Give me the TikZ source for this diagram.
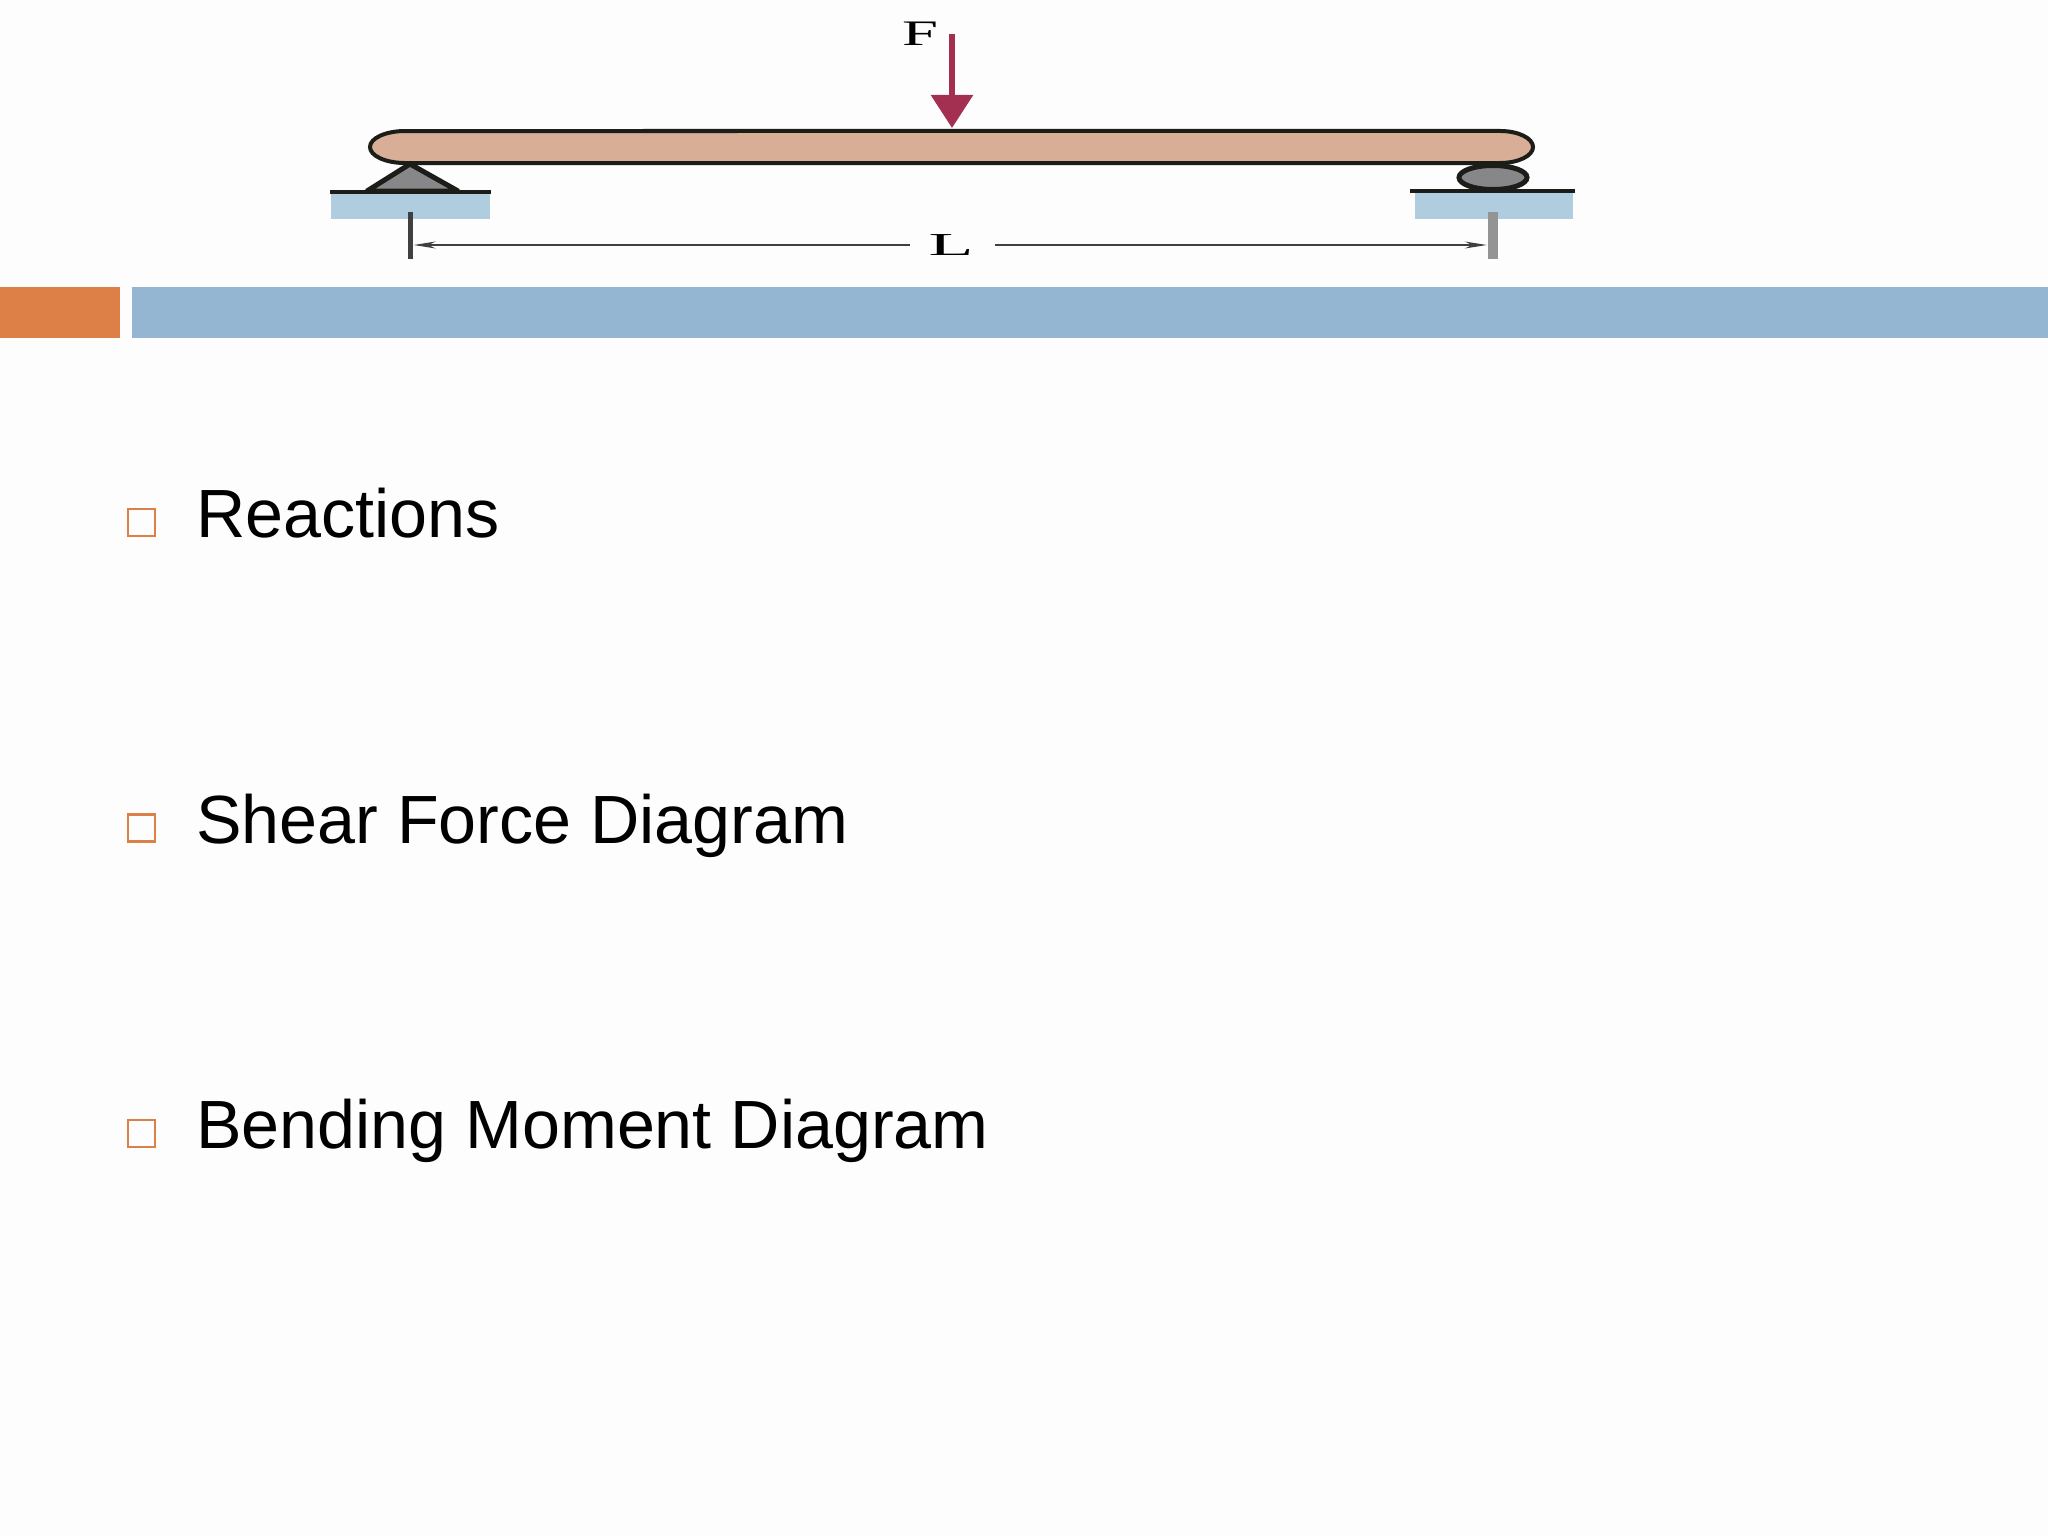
\documentclass[tikz,border=0pt]{standalone}
\usepackage{xcolor}
\usepackage{fontspec}
\setmainfont{Liberation Sans}
\newfontfamily\beamfont{Liberation Serif}
\usetikzlibrary{arrows.meta,shapes.geometric}
\definecolor{paper}{RGB}{253,253,253}
\definecolor{accent}{RGB}{221,128,71}
\definecolor{band}{RGB}{148,182,210}
\definecolor{beam}{RGB}{217,174,151}
\definecolor{ground}{RGB}{175,205,222}
\definecolor{support}{RGB}{135,135,138}
\definecolor{force}{RGB}{163,48,80}
\definecolor{outline}{RGB}{28,28,24}
\tikzstyle{bullet}=[draw=accent,line width=.028cm,minimum size=.27cm,inner sep=0pt]
\tikzstyle{item}=[anchor=base west,inner sep=0pt,font=\fontsize{19.4}{23}\selectfont]
\tikzset{support/.style={fill=support,draw=outline,line width=.05cm}}
\tikzset{surface/.style={draw=outline,line width=.035cm}}
\tikzset{tick/.style={minimum width=.05cm,minimum height=.47cm,inner sep=0pt}}
\tikzset{dimension/.style={draw=black!75,line width=.012cm,-{Stealth[length=.22cm,width=.07cm]}}}

\begin{document}
\begin{tikzpicture}[x=.01cm,y=-.01cm]
  \useasboundingbox (0,0) rectangle (2048,1536);
  \fill[paper] (0,0) rectangle (2048,1536);

  %% Header band
  \fill[accent] (0,287) rectangle (120,338);
  \fill[band] (132,287) rectangle (2048,338);

  %% Ground under the supports
  \fill[ground] (331,192) rectangle (490,219);
  \fill[ground] (1415,192) rectangle (1573,219);
  \draw[surface] (330,192) -- (491,192);
  \draw[surface] (1410,191) -- (1575,191);

  %% Supports
  \draw[support,line join=round] (410,164) -- (458,191) -- (367,191) -- cycle;
  \draw (1493,177.5) node[ellipse,support,minimum width=.68cm,minimum height=.24cm,inner sep=0pt] (roller) {};

  %% Beam
  \draw[fill=beam,draw=outline,line width=.04cm] (405,131) arc[start angle=90,delta angle=180,x radius=.35cm,y radius=.16cm]
    -- (1500,163) arc[start angle=270,delta angle=180,x radius=.33cm,y radius=.16cm] -- cycle;

  %% Load
  \coordinate (Ftop) at (952,34);
  \coordinate (Fend) at (952,128);
  \draw[force,line width=.06cm,-{Triangle[length=.33cm,width=.41cm]}] (Ftop) -- (Fend);
  \draw (920,34) node[xscale=1.8,inner sep=0pt,font=\beamfont\fontsize{10.2}{12}\selectfont] (Flabel) {F};

  %% Span
  \draw (410.5,235.5) node[tick,fill=black!75] (tickA) {};
  \draw (1492.5,235.5) node[tick,minimum width=.1cm,fill=black!42] (tickB) {};
  \draw (951,245) node[xscale=2.3,inner sep=0pt,font=\beamfont\fontsize{9.1}{11}\selectfont] (Llabel) {L};
  \coordinate (La) at (910,245);
  \coordinate (Lb) at (995,245);
  \draw[dimension] (La) -- (La -| tickA.east);
  \draw[dimension] (Lb) -- (Lb -| tickB.west);

  %% List
  \draw (141.5,522.5) node[bullet] (B1) {};
  \draw (195.5,537) node[item] (T1) {Reactions};
  \draw (141.5,828) node[bullet] (B2) {};
  \draw (195.5,843) node[item] (T2) {Shear Force Diagram};
  \draw (141.5,1133.5) node[bullet] (B3) {};
  \draw (195.5,1148) node[item] (T3) {Bending Moment Diagram};
\end{tikzpicture}
\end{document}
